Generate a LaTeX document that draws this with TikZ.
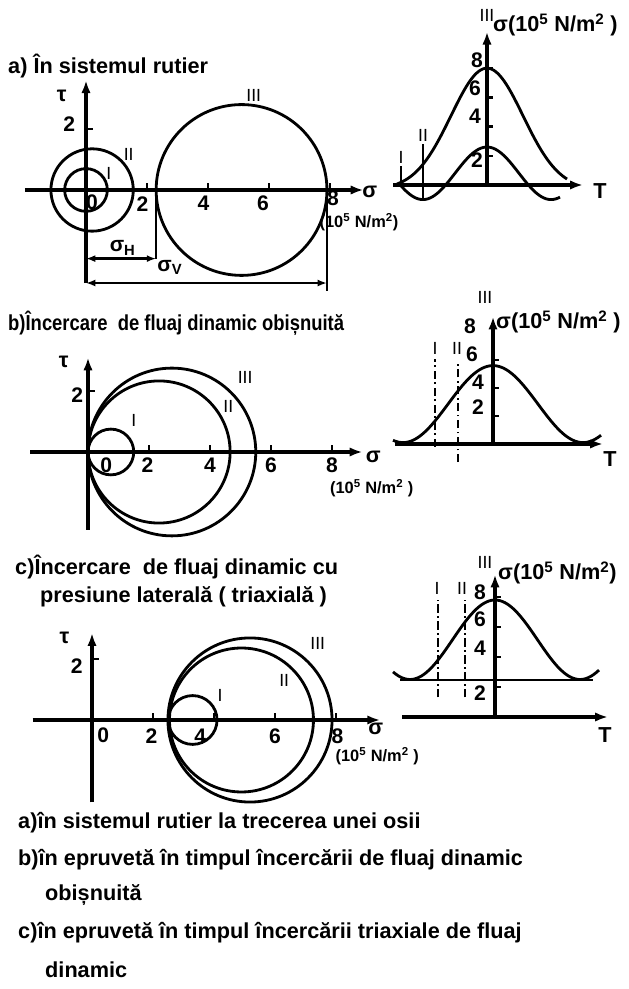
\documentclass[tikz,border=0pt]{standalone}
\usepackage{fontspec}
\setmainfont{Liberation Sans}
\usetikzlibrary{arrows.meta, positioning}

\begin{document}
\begin{tikzpicture}[x=0.03cm,y=0.03cm,
    txt/.style={inner sep=0pt,font=\bfseries\fontsize{18.5}{21}\selectfont},
    num/.style={inner sep=0pt,font=\bfseries\fontsize{18}{20}\selectfont},
    rom/.style={inner sep=0pt,font=\fontsize{15}{16}\selectfont},
    unitlbl/.style={inner sep=0pt,font=\bfseries\fontsize{14}{16}\selectfont},
    axis/.style={line width=3pt,-{Latex[length=11pt,width=8pt]}},
    curve/.style={line width=2.4pt},
    tickln/.style={line width=2pt},
    dimln/.style={line width=2pt,{Latex[length=8pt,width=6pt]}-{Latex[length=8pt,width=6pt]}},
    instant/.style={line width=1.6pt,dash pattern=on 7pt off 3pt on 1.5pt off 3pt}]
    \useasboundingbox (0,0) rectangle (629,989);

    % titles
    \node[txt,anchor=west] (titleA) at (8,923) {a) În sistemul rutier};
    \node[txt,anchor=west] (titleB) at (8,666) {\scalebox{0.85}[1]{b)Încercare\ \ de fluaj dinamic obișnuită}};
    \node[txt,anchor=west] (titleC) at (15,422) {c)Încercare\ \ de fluaj dinamic cu};
    \node[txt,anchor=west] (titleC2) at (40,392) {presiune laterală ( triaxială )};

    % a) Mohr circles
    \begin{scope}[shift={(86,799)},x=0.915cm,y=0.915cm]
        \coordinate (aO) at (0,0);
        \draw[axis] (-2,0) -- (9.1,0);
        \draw[axis] (0,-3.05) -- (0,3.6);
        \foreach \s in {2,4,6,8}
            \draw[tickln] (\s,0) -- (\s,0.22);
        \draw[tickln] (0,2) -- (0.22,2);
        \draw[curve] (aO) circle (0.7);
        \draw[curve] (0.2,0) circle (1.35);
        \draw[curve] (5.1,0) circle (2.8);
        \coordinate (aH) at (2.3,0);
        \coordinate (aV) at (7.9,0);
        \draw[tickln] (aH) -- ++(0,-2.25) coordinate (aH1);
        \draw[tickln] (aV) -- ++(0,-3.3);
        \draw[dimln] (0,-2.25) -- (aH1);
        \draw[dimln] (0,-3.05) -- (7.9,-3.05);
        \node[txt] (aTau) at (-0.8,3.1) {τ};
        \node[num] (aT2) at (-0.55,2.15) {2};
        \node[num] (a0) at (0.2,-0.4) {0};
        \foreach \s/\p in {2/1.85,4/3.85,6/5.8}
            \node[num] (a\s) at (\p,-0.45) {\s};
        \node[num] (a8) at (8.1,-0.28) {8};
        \node[txt] (aSig) at (9.3,-0.05) {σ};
        \node[unitlbl] (aUnit) at (8.95,-1.05) {(10\textsuperscript{5} N/m\textsuperscript{2})};
        \node[rom] (aI) at (0.75,0.55) {I};
        \node[rom] (aII) at (1.4,1.15) {II};
        \node[rom] (aIII) at (5.5,3.1) {III};
        \node[num] (aSH) at (1.2,-1.9) {σ\textsubscript{H}};
        \node[num] (aSV) at (2.75,-2.55) {σ\textsubscript{V}};
    \end{scope}

    % a) stress in time
    \begin{scope}[shift={(487,804)},y=0.438cm]
        \draw[axis] (-94,0) -- (96,0);
        \draw[axis] (0,0) -- (0,10.5);
        \foreach \v in {2,4,6,8}
            \draw[tickln] (0,\v) -- (6,\v);
        \draw[curve] plot[domain=-90:80,samples=80,smooth] (\x,{8.3*exp(-(\x/51)*(\x/51))-0.3});
        \draw[curve] plot[domain=-87:73,samples=80,smooth] (\x,{0.8+1.8*cos(2.81*\x)});
        \draw[tickln] (-86,0) -- (-86,1.3);
        \draw[tickln] (-64,-1) -- (-64,2.8);
        \node[num] (at8) at (-10,8.55) {8};
        \node[num] (at6) at (-12,6.6) {6};
        \node[num] (at4) at (-12,4.7) {4};
        \node[num] (at2) at (-10,1.7) {2};
        \node[rom] (atIII) at (0,11.6) {III};
        \node[txt,anchor=west] (atSig) at (6,10.95) {σ(10\textsuperscript{5} N/m\textsuperscript{2} )};
        \node[txt] (atT) at (113,-0.4) {T};
        \node[rom] (atI) at (-86,1.9) {I};
        \node[rom] (atII) at (-64,3.4) {II};
    \end{scope}

    % b) Mohr circles
    \begin{scope}[shift={(88,537)},x=0.915cm,y=0.915cm]
        \coordinate (bO) at (0,0);
        \draw[axis] (-1.9,0) -- (9.0,0);
        \draw[axis] (0,-2.55) -- (0,3.1);
        \foreach \s in {2,4,6,8}
            \draw[tickln] (\s,0) -- (\s,0.22);
        \draw[tickln] (0,2) -- (0.22,2);
        \draw[curve] (0.75,0) circle (0.75);
        \draw[curve] (2.33,0) circle (2.33);
        \draw[curve] (2.75,0) circle (2.75);
        \node[txt] (bTau) at (-0.8,2.95) {τ};
        \node[num] (bT2) at (-0.35,1.85) {2};
        \node[num] (b0) at (0.6,-0.45) {0};
        \foreach \s/\p in {2/1.95,4/4.0,6/6.0,8/8.0}
            \node[num] (b\s) at (\p,-0.42) {\s};
        \node[txt] (bSig) at (9.35,-0.15) {σ};
        \node[unitlbl] (bUnit) at (9.3,-1.2) {(10\textsuperscript{5} N/m\textsuperscript{2} )};
        \node[rom] (bI) at (1.5,1.05) {I};
        \node[rom] (bII) at (4.6,1.48) {II};
        \node[rom] (bIII) at (5.15,2.43) {III};
    \end{scope}

    % b) stress in time
    \begin{scope}[shift={(493,545)},y=0.42cm]
        \draw[axis] (-98,0) -- (110,0);
        \draw[axis] (0,0) -- (0,9.1);
        \foreach \v in {2,4,6}
            \draw[tickln] (0,\v) -- (6,\v);
        \draw[curve] plot[domain=-100:108,samples=80,smooth] (\x,{2.85+2.75*cos(2*\x)});
        \draw[instant] (-58,-0.2) -- (-58,6.1);
        \draw[instant] (-35,-1.3) -- (-35,5.9);
        \node[rom] (btIII) at (-8,10.5) {III};
        \node[num] (bt8) at (-23,8.4) {8};
        \node[num] (bt6) at (-21,6.4) {6};
        \node[num] (bt4) at (-15,4.4) {4};
        \node[num] (bt2) at (-15,2.6) {2};
        \node[txt,anchor=west] (btSig) at (3,8.7) {σ(10\textsuperscript{5} N/m\textsuperscript{2} )};
        \node[txt] (btT) at (117,-1.1) {T};
        \node[rom] (btI) at (-58,6.8) {I};
        \node[rom] (btII) at (-36,6.8) {II};
    \end{scope}

    % c) Mohr circles
    \begin{scope}[shift={(92,269)},x=0.915cm,y=0.915cm]
        \coordinate (cO) at (0,0);
        \draw[axis] (-1.95,0) -- (9.45,0);
        \draw[axis] (0,-2.7) -- (0,2.85);
        \foreach \s in {2,4,6,8}
            \draw[tickln] (\s,0) -- (\s,0.22);
        \draw[tickln] (0,2) -- (0.22,2);
        \draw[curve] (3.3,0) circle (0.8);
        \draw[curve] (4.9,0) circle (2.36);
        \draw[curve] (5.18,0) circle (2.69);
        \node[txt] (cTau) at (-0.9,2.7) {τ};
        \node[num] (cT2) at (-0.5,1.75) {2};
        \node[num] (c0) at (0.37,-0.5) {0};
        \foreach \s/\p in {2/1.95,4/3.55,6/6.0,8/8.05}
            \node[num] (c\s) at (\p,-0.52) {\s};
        \node[txt] (cSig) at (9.3,-0.3) {σ};
        \node[unitlbl] (cUnit) at (9.35,-1.2) {(10\textsuperscript{5} N/m\textsuperscript{2} )};
        \node[rom] (cI) at (4.2,0.8) {I};
        \node[rom] (cII) at (6.3,1.3) {II};
        \node[rom] (cIII) at (7.4,2.5) {III};
    \end{scope}

    % c) stress in time
    \begin{scope}[shift={(495,272)},y=0.45cm]
        \draw[axis] (-93,0) -- (113,0);
        \draw[axis] (0,0) -- (0,9.5);
        \draw[curve] (-95,2.47) -- (98,2.47);
        \foreach \v in {2,4,6,8}
            \draw[tickln] (0,\v) -- (6,\v);
        \draw[curve] plot[domain=-102:104,samples=80,smooth] (\x,{5.15+2.65*cos(2.118*\x)});
        \draw[instant] (-57,1.3) -- (-57,7.8);
        \draw[instant] (-30,1.3) -- (-30,7.8);
        \node[rom] (ctIII) at (-10,10.3) {III};
        \node[txt,anchor=west] (ctSig) at (3,9.6) {σ(10\textsuperscript{5} N/m\textsuperscript{2})};
        \node[num] (ct8) at (-15,8.3) {8};
        \node[num] (ct6) at (-15,6.5) {6};
        \node[num] (ct4) at (-15,4.6) {4};
        \node[num] (ct2) at (-15,1.6) {2};
        \node[txt] (ctT) at (110,-1.2) {T};
        \node[rom] (ctI) at (-58,8.6) {I};
        \node[rom] (ctII) at (-33,8.6) {II};
    \end{scope}

    % legend
    \node[txt,anchor=west] (legA) at (18,166) {a)în sistemul rutier la trecerea unei osii};
    \node[txt,anchor=west] (legB) at (18,129) {b)în epruvetă în timpul încercării de fluaj dinamic};
    \node[txt,anchor=west] (legB2) at (45,94) {obișnuită};
    \node[txt,anchor=west] (legC) at (18,56) {c)în epruvetă în timpul încercării triaxiale de fluaj};
    \node[txt,anchor=west] (legC2) at (45,19) {dinamic};
\end{tikzpicture}
\end{document}
